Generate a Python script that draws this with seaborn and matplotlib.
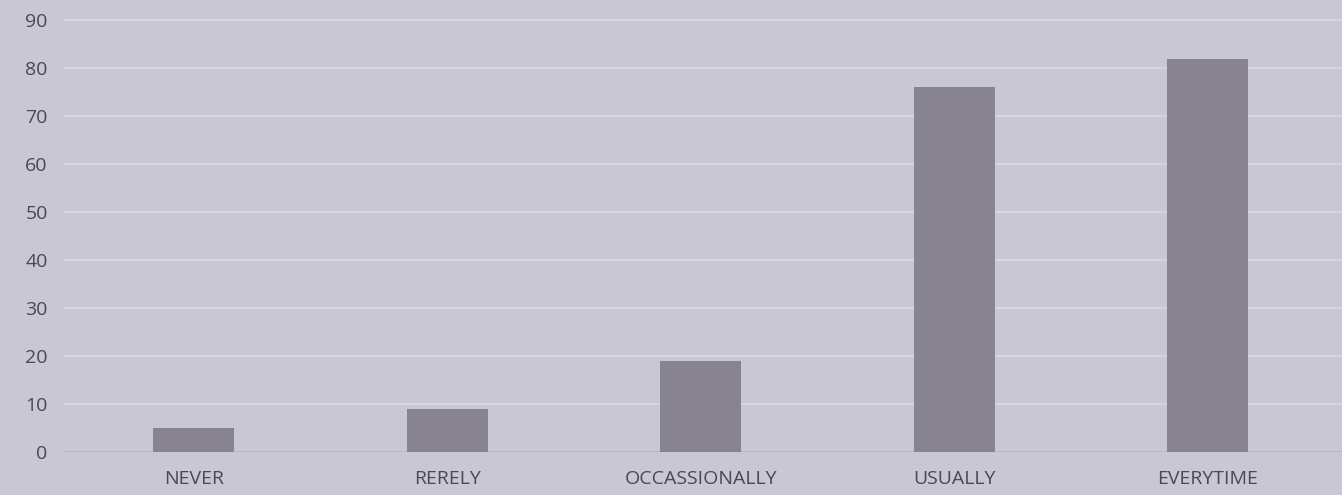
import matplotlib
matplotlib.use("Agg")
import matplotlib.pyplot as plt
import seaborn as sns

# Survey answers
categories = ['NEVER', 'RERELY', 'OCCASSIONALLY', 'USUALLY', 'EVERYTIME']
counts = [5, 9, 19, 76, 82]
yticks = [0, 10, 20, 30, 40, 50, 60, 70, 80, 90]

sns.set_style('white')
plt.rcParams['font.family'] = ['Open Sans', 'DejaVu Sans']

bg = '#cac7d5'
fig = plt.figure(figsize=(13.42, 4.95), dpi=100, facecolor=bg)
ax = fig.add_axes([0.048, 0.087, 0.952, 0.913], facecolor=bg)

sns.barplot(x=categories, y=counts, color='#87848f', width=0.32,
            saturation=1, linewidth=0, ax=ax, zorder=3)

ax.set_xlim(-0.51, 4.53)
ax.set_ylim(0, 94.2)
ax.set_yticks(yticks)
ax.yaxis.grid(True, color='#d9d7e2', linewidth=1.2, zorder=0)
ax.set_axisbelow(True)
ax.axhline(0, color='#b3b0bd', linewidth=1.2, zorder=1)
sns.despine(ax=ax, left=True, bottom=True, top=True, right=True)
ax.tick_params(axis='both', length=0, labelsize=14, colors='#4a4852')
ax.tick_params(axis='x', pad=13)
ax.tick_params(axis='y', pad=12)
ax.set_xlabel('')
ax.set_ylabel('')

fig.savefig('out.png', dpi=100, facecolor=bg)
